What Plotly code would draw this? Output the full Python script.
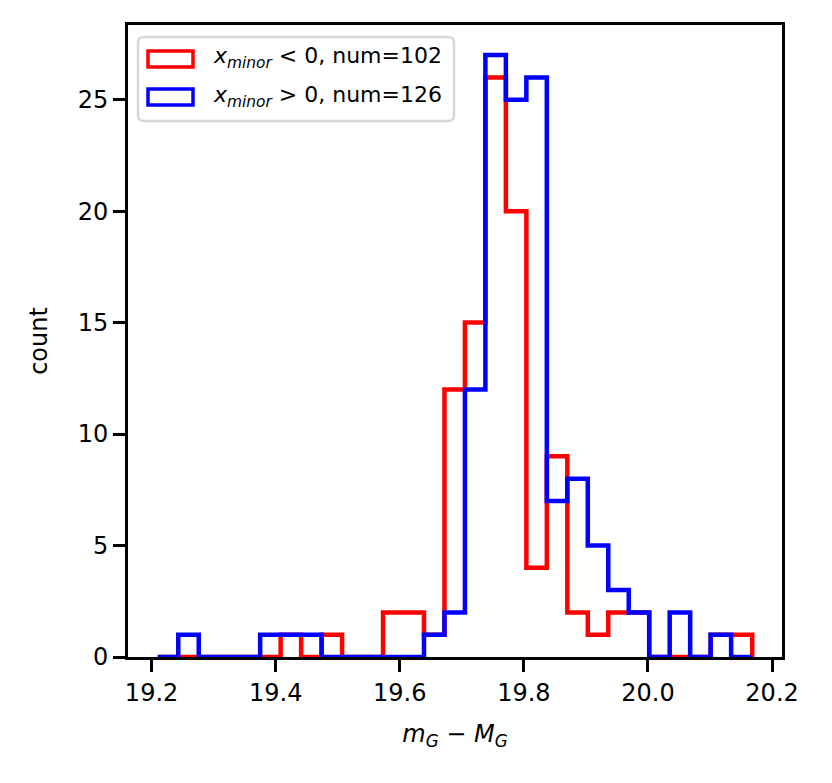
import plotly.graph_objects as go

# --- histogram data ---
bin_edges = [19.210, 19.243, 19.276, 19.309, 19.342, 19.375, 19.408, 19.441,
             19.474, 19.507, 19.540, 19.573, 19.606, 19.639, 19.672, 19.705,
             19.738, 19.771, 19.804, 19.837, 19.870, 19.903, 19.936, 19.969,
             20.002, 20.035, 20.068, 20.101, 20.134, 20.168]
counts_neg = [0, 0, 0, 0, 0, 0, 1, 0, 1, 0, 0, 2, 2, 1, 12, 15, 26, 20, 4, 9,
              2, 1, 2, 2, 0, 0, 0, 1, 1]
counts_pos = [0, 1, 0, 0, 0, 1, 1, 1, 0, 0, 0, 0, 0, 1, 2, 12, 27, 25, 26, 7,
              8, 5, 3, 2, 0, 2, 0, 1, 0]
labels = ["<i>x</i><sub><i>minor</i></sub> < 0, num=102",
          "<i>x</i><sub><i>minor</i></sub> > 0, num=126"]
colors = ["#ff0000", "#0000ff"]

x_ticks = [19.2, 19.4, 19.6, 19.8, 20.0, 20.2]
y_ticks = [0, 5, 10, 15, 20, 25]

# target pixel layout in the 832 x 783 window
W, H = 832, 783
L, R, T, B = 128, 782, 25, 657
OFF = 8  # page body margin, the figure div starts 8px in


def px(x):
    return (x - L) / (R - L)


def py(y):
    return (B - y) / (B - T)


def step_xy(edges, counts):
    # outline like matplotlib histtype='step'
    xs = [edges[0]] + list(edges)
    ys = [0] + list(counts) + [0]
    return xs, ys


fig = go.Figure()
for counts, c in zip([counts_neg, counts_pos], colors):
    xs, ys = step_xy(bin_edges, counts)
    fig.add_trace(go.Scatter(x=xs, y=ys, mode="lines", line_shape="hv",
                             line=dict(color=c, width=4.5), showlegend=False,
                             hoverinfo="skip"))

font = dict(family="DejaVu Sans", size=24, color="black")
axis_common = dict(showline=True, linecolor="black", linewidth=2.8, mirror=True,
                   ticks="outside", ticklen=12, tickwidth=2.8, tickcolor="black",
                   showgrid=False, zeroline=False, tickfont=font)

fig.update_xaxes(range=[19.162, 20.216], tickvals=x_ticks, tickformat=".1f",
                 title=dict(text="<i>m</i><sub><i>G</i></sub> \u2212 <i>M</i><sub><i>G</i></sub>",
                            font=font, standoff=20),
                 **axis_common)
fig.update_yaxes(range=[0, 28.35], tickvals=y_ticks,
                 title=dict(text="count", font=font, standoff=24),
                 **axis_common)

# legend drawn by hand: rounded box, outline patches, text
bx0, by0, bx1, by1, rr = 138, 37, 454, 121, 6
path = (f"M {px(bx0 + rr)} {py(by0)} L {px(bx1 - rr)} {py(by0)} "
        f"Q {px(bx1)} {py(by0)} {px(bx1)} {py(by0 + rr)} "
        f"L {px(bx1)} {py(by1 - rr)} Q {px(bx1)} {py(by1)} {px(bx1 - rr)} {py(by1)} "
        f"L {px(bx0 + rr)} {py(by1)} Q {px(bx0)} {py(by1)} {px(bx0)} {py(by1 - rr)} "
        f"L {px(bx0)} {py(by0 + rr)} Q {px(bx0)} {py(by0)} {px(bx0 + rr)} {py(by0)} Z")
fig.add_shape(type="path", path=path, xref="paper", yref="paper",
              line=dict(color="#d6d6d6", width=2.5), fillcolor="rgba(255,255,255,0.8)")

patch_rows = [(51, 67), (89, 105)]
text_y = [58, 96]
for (y0, y1), ty, c, lab in zip(patch_rows, text_y, colors, labels):
    fig.add_shape(type="rect", xref="paper", yref="paper",
                  x0=px(148), x1=px(193), y0=py(y1), y1=py(y0),
                  line=dict(color=c, width=3.5), fillcolor="rgba(0,0,0,0)")
    fig.add_annotation(x=px(211), y=py(ty), xref="paper", yref="paper",
                       text=lab, showarrow=False, xanchor="left", yanchor="middle",
                       font=dict(family="DejaVu Sans", size=22, color="black"))

fig.update_layout(width=W - OFF, height=H - OFF, template="plotly_white",
                  paper_bgcolor="white", plot_bgcolor="white",
                  margin=dict(l=L - OFF, r=W - R, t=T - OFF, b=H - B),
                  showlegend=False)

fig.write_html("out.html")
